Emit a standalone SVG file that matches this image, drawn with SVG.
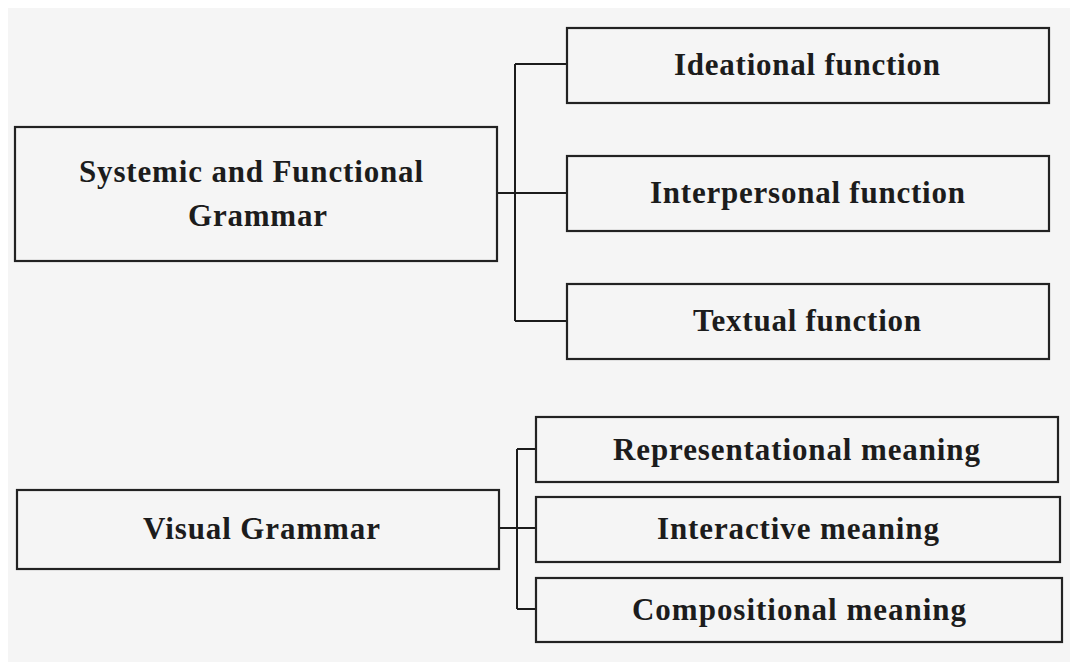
<svg xmlns="http://www.w3.org/2000/svg" width="1070" height="662" viewBox="0 0 1070 662">
<style>
.box{fill:none;stroke:#222;stroke-width:2.2}
.lbl{font-family:"Liberation Serif","Times New Roman",serif;font-weight:bold;font-size:31px;fill:#1c1c1c;text-anchor:middle}
.conn{fill:none;stroke:#1c1c1c;stroke-width:2}
</style>
<rect x="0" y="0" width="1070" height="662" fill="#ffffff"/>
<rect x="8" y="8" width="1062" height="654" fill="#f5f5f5"/>
<g id="connectors">
<path class="conn" d="M497,193 H567 M515,64 V321 M515,64 H567 M515,321 H567"/>
<path class="conn" d="M499,528 H536 M517,449 V609 M517,449 H536 M517,609 H536"/>
</g>
<g id="sfg">
<rect class="box" x="15" y="127" width="482" height="134"/>
<text class="lbl" x="251" y="182" textLength="344">Systemic and Functional</text>
<text class="lbl" x="257.5" y="226" textLength="139">Grammar</text>
</g>
<g id="ideational">
<rect class="box" x="567" y="28" width="482" height="75"/>
<text class="lbl" x="807" y="75" textLength="266">Ideational function</text>
</g>
<g id="interpersonal">
<rect class="box" x="567" y="156" width="482" height="75"/>
<text class="lbl" x="807.5" y="203" textLength="315">Interpersonal function</text>
</g>
<g id="textual">
<rect class="box" x="567" y="284" width="482" height="75"/>
<text class="lbl" x="807" y="331" textLength="228">Textual function</text>
</g>
<g id="visual">
<rect class="box" x="17" y="490" width="482" height="79"/>
<text class="lbl" x="261.5" y="539" textLength="237">Visual Grammar</text>
</g>
<g id="representational">
<rect class="box" x="536" y="417" width="522" height="65"/>
<text class="lbl" x="796.5" y="460" textLength="367">Representational meaning</text>
</g>
<g id="interactive">
<rect class="box" x="536" y="497" width="524" height="65"/>
<text class="lbl" x="798" y="539" textLength="282">Interactive meaning</text>
</g>
<g id="compositional">
<rect class="box" x="536" y="578" width="526" height="64"/>
<text class="lbl" x="799" y="620" textLength="334">Compositional meaning</text>
</g>
</svg>
